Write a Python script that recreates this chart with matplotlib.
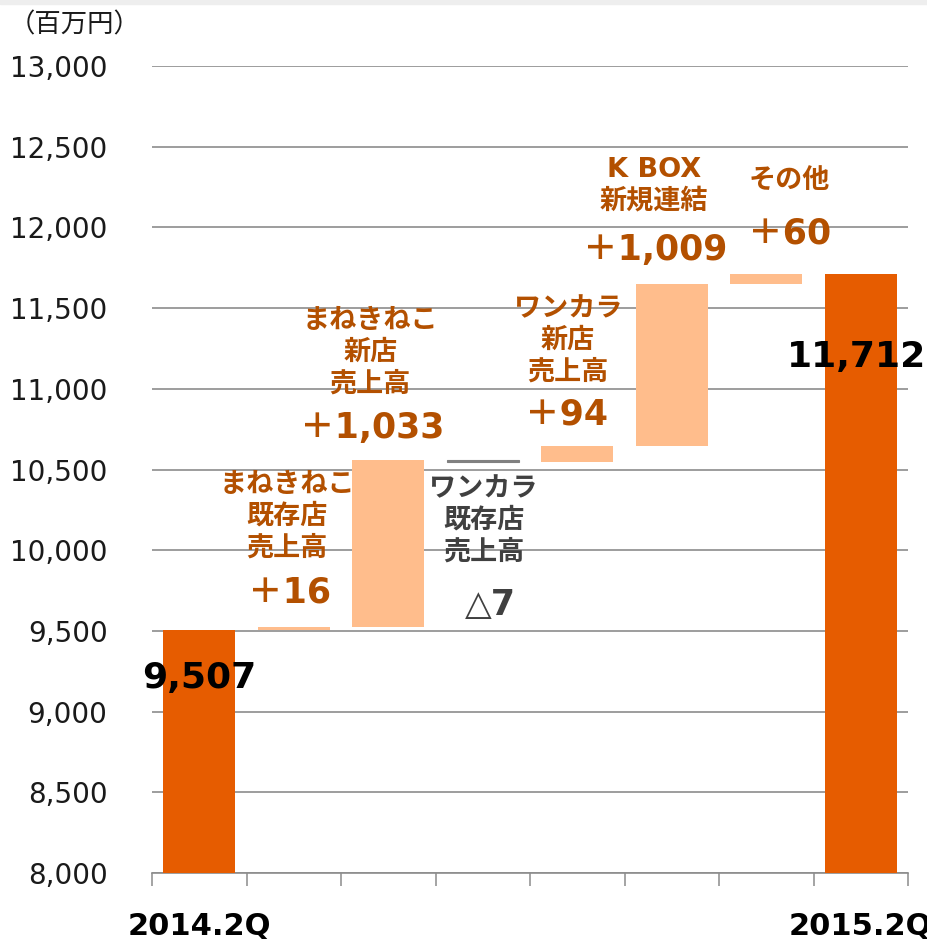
import numpy as np
import matplotlib
matplotlib.use("Agg")
import matplotlib.pyplot as plt
from matplotlib.patches import Rectangle

plt.rcParams["font.family"] = ["DejaVu Sans", "Noto Sans CJK JP"]

COL_TOTAL = "#E65C00"
COL_UP = "#FFBD8C"
COL_DOWN = "#808080"
COL_TXT = "#B35000"
COL_GRAY = "#404040"

# data
categories = ["2014.2Q", "", "", "", "", "", "", "2015.2Q"]
start_value = 9507
end_value = 11712
deltas = [16, 1033, -7, 94, 1009, 60]
step_titles = [
    "まねきねこ\n既存店\n売上高",
    "まねきねこ\n新店\n売上高",
    "ワンカラ\n既存店\n売上高",
    "ワンカラ\n新店\n売上高",
    "K BOX\n新規連結",
    "その他",
]
step_labels = ["＋16", "＋1,033", "△7", "＋94", "＋1,009", "＋60"]
yticks = np.arange(8000, 13001, 500)

# label placement (x in slot units, y in data units)
title_xy = [(0.93, 10206), (1.81, 11222), (3.01, 10181),
            (3.90, 11296), (4.81, 12257), (6.24, 12281)]
value_xy = [(0.96, 9741), (1.83, 10757), (3.08, 9660),
            (3.89, 10838), (4.82, 11860), (6.25, 11965)]
total_xy = [(0.0, 9208), (6.96, 11197)]

fig = plt.figure(figsize=(9.28, 9.43), dpi=100)
fig.patches.append(Rectangle((0, 0.996), 1, 0.004, transform=fig.transFigure,
                             color="#eeeeee", zorder=0))
ax = fig.add_axes([0.1638, 0.0742, 0.8147, 0.8558])

bar_w = 0.76
x = np.arange(len(categories))

ax.bar(x[0], start_value, width=bar_w, color=COL_TOTAL, zorder=3)
ax.bar(x[-1], end_value, width=bar_w, color=COL_TOTAL, zorder=3)

level = start_value
for i, d in enumerate(deltas):
    bottom = min(level, level + d)
    if d >= 0:
        ax.bar(x[i + 1], abs(d), bottom=bottom, width=bar_w, color=COL_UP, zorder=3)
    else:
        ax.bar(x[i + 1], abs(d), bottom=bottom, width=bar_w, color=COL_DOWN,
               edgecolor=COL_DOWN, lw=0.8, zorder=3)
    level += d

for i in range(len(deltas)):
    c = COL_GRAY if deltas[i] < 0 else COL_TXT
    tx, ty = title_xy[i]
    ax.text(tx, ty, step_titles[i], ha="center", va="center", color=c,
            fontsize=19.5, fontweight="bold", linespacing=1.28, zorder=4)
    vx, vy = value_xy[i]
    ax.text(vx, vy, step_labels[i], ha="center", va="center", color=c,
            fontsize=25, fontweight="bold", zorder=4)

for (tx, ty), v in zip(total_xy, [start_value, end_value]):
    ax.text(tx, ty, f"{v:,}", ha="center", va="center", color="black",
            fontsize=26, fontweight="bold", zorder=4, clip_on=False)

ax.set_xlim(-0.5, 7.5)
ax.set_ylim(8000, 13000)

ax.set_yticks(yticks)
ax.set_yticklabels([f"{v:,}" for v in yticks])
ax.tick_params(axis="y", length=0, pad=32, labelsize=20, labelcolor="#1a1a1a")
ax.yaxis.grid(True, color="#8c8c8c", lw=1.2, zorder=1)
ax.set_axisbelow(True)

ax.set_xticks(np.arange(-0.5, 8, 1))
ax.set_xticklabels([])
ax.tick_params(axis="x", which="major", length=9.5, width=1.1, color="#8c8c8c")
ax.set_xticks(x, minor=True)
ax.set_xticklabels(categories, minor=True, fontsize=22, fontweight="bold")
ax.tick_params(axis="x", which="minor", length=0, pad=28)

for s in ["top", "right", "left"]:
    ax.spines[s].set_visible(False)
ax.spines["bottom"].set_color("#8c8c8c")
ax.spines["bottom"].set_linewidth(1.2)

fig.text(0.009, 0.974, "（百万円）", fontsize=19, color="#1a1a1a",
         ha="left", va="center", family=["Noto Sans CJK JP"])

fig.savefig("out.png", dpi=100)
